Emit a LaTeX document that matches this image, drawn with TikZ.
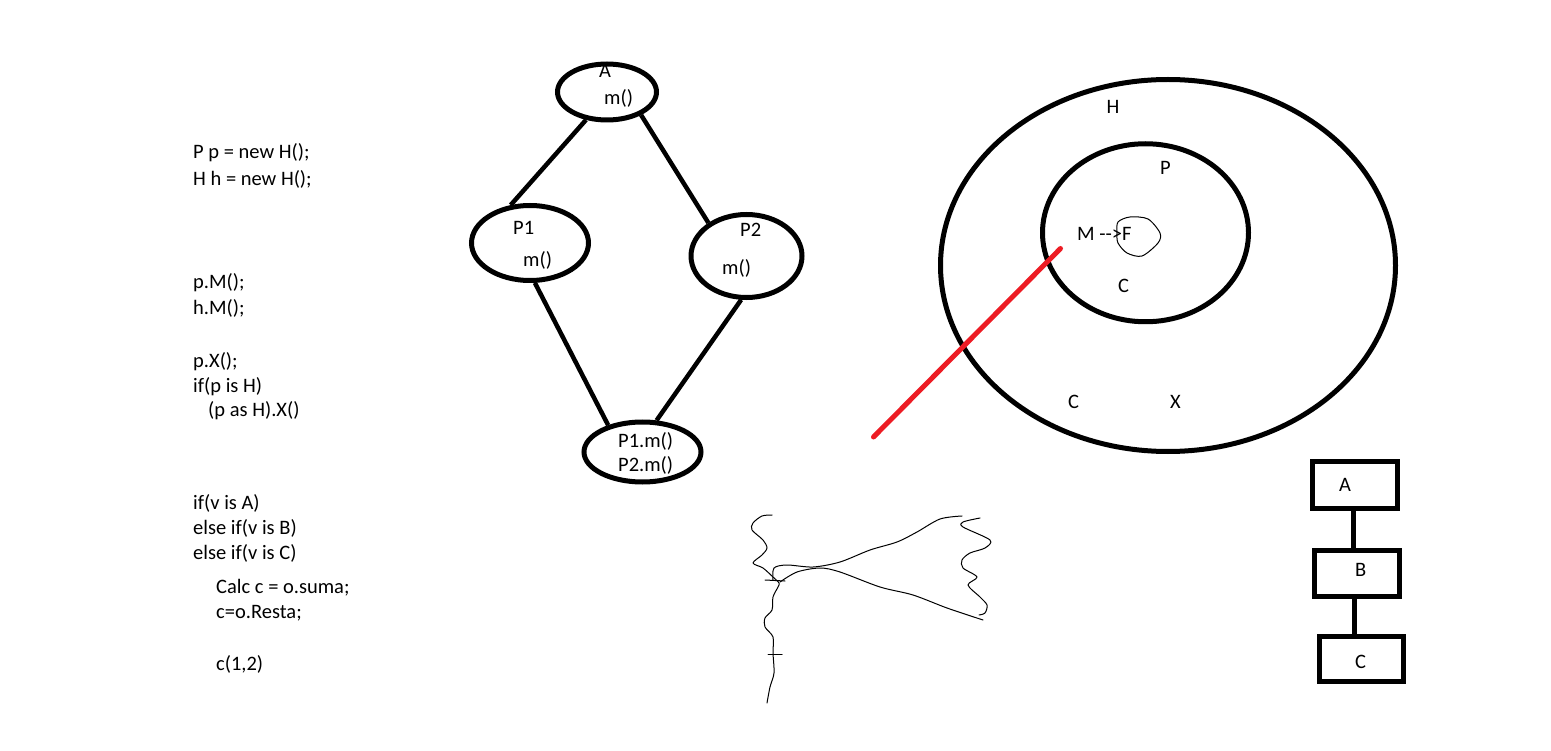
\documentclass[tikz,border=0pt]{standalone}
\usepackage{fontspec}
\setmainfont{Carlito}
\usetikzlibrary{shapes.geometric}
\definecolor{penred}{RGB}{237,28,36}
\tikzset{
  code/.style={anchor=base west, inner sep=0pt, font=\fontsize{20.5}{24}\selectfont},
  lbl/.style={anchor=base west, inner sep=0pt, font=\fontsize{20.5}{24}\selectfont},
  oval/.style={draw, ellipse, line width=5pt, inner sep=0pt},
  edge/.style={line width=4.5pt},
  classbox/.style={draw, line width=5pt, inner sep=0pt},
  pen/.style={line width=1pt, line join=round, line cap=round},
}
\begin{document}
\begin{tikzpicture}[x=1pt, y=-1pt]
\useasboundingbox (0,0) rectangle (1551,751);

% ---- code listing ----
\node[code] (c1) at (193,159) {P p = new H();};
\node[code] (c2) at (193,186) {H h = new H();};
\node[code] (c3) at (193,289) {p.M();};
\node[code] (c4) at (193,315) {h.M();};
\node[code] (c5) at (193,367) {p.X();};
\node[code] (c6) at (193,392) {if(p is H)};
\node[code] (c7) at (208,417) {(p as H).X()};
\node[code] (c8) at (193,509) {if(v is A)};
\node[code] (c9) at (193,534) {else if(v is B)};
\node[code] (c10) at (193,559) {else if(v is C)};
\node[code] (c11) at (216,593) {Calc c = o.suma;};
\node[code] (c12) at (216,618) {c=o.Resta;};
\node[code] (c13) at (216,670) {c(1,2)};

% ---- diamond of ellipses ----
\node[oval, minimum width=99pt, minimum height=56pt] (A) at (607,92) {};
\node[oval, minimum width=117pt, minimum height=75pt] (P1) at (530,243) {};
\node[oval, minimum width=111pt, minimum height=83pt] (P2) at (746.5,256) {};
\node[oval, minimum width=117pt, minimum height=60pt] (PM) at (642.5,452) {};

\node[lbl] (tA) at (599,78) {A};
\node[lbl] (tAm) at (604,105) {m()};
\node[lbl] (tP1) at (513,235) {P1};
\node[lbl] (tP1m) at (523,267) {m()};
\node[lbl] (tP2) at (740,237) {P2};
\node[lbl] (tP2m) at (722,275) {m()};
\node[lbl] (tPM1) at (618,447) {P1.m()};
\node[lbl] (tPM2) at (618,471) {P2.m()};

\draw[edge] (A.233) -- (P1.117);
\draw[edge] (A.326) -- (P2.139);
\draw[edge] (P1.277) -- (PM.142);
\draw[edge] (P2.263) -- (PM.66);

% ---- nested sets ----
\node[oval, minimum width=455pt, minimum height=372pt] (H) at (1168,265.5) {};
\node[oval, minimum width=206pt, minimum height=178pt] (P) at (1145.5,232.75) {};
\node[lbl] (tH) at (1106.5,114) {H};
\node[lbl] (tP) at (1160,175) {P};
\node[lbl] (tMF) at (1077,240.5) {M -{}->F};
\node[lbl] (tC1) at (1118,292.5) {C};
\node[lbl] (tC2) at (1068,408.5) {C};
\node[lbl] (tX) at (1170,408.5) {X};
\draw[pen] plot[smooth cycle] coordinates {(1118,222) (1130,217) (1148,219) (1160,233) (1158,243) (1142,256) (1127,253) (1118,243) (1117,233)};

% red stroke
\coordinate (r1) at (873.5,437);
\coordinate (r2) at (1060.5,248.5);
\draw[penred, line width=5pt, line cap=round] (r1) -- (r2);

% ---- chain of boxes ----
\node[classbox, minimum width=85pt, minimum height=47.5pt] (bA) at (1355,484.75) {};
\node[classbox, minimum width=85pt, minimum height=46pt] (bB) at (1356.5,573) {};
\node[classbox, minimum width=84.5pt, minimum height=45pt] (bC) at (1361.25,658.5) {};
\node[lbl] (tbA) at (1339,491.5) {A};
\node[lbl] (tbB) at (1355,576.5) {B};
\node[lbl] (tbC) at (1355,668.5) {C};
\draw[edge] (bA.south -| 1353.5,0) -- (bB.north -| 1353.5,0);
\draw[edge] (bB.south -| 1354.5,0) -- (bC.north -| 1354.5,0);

% ---- freehand scribble ----
\draw[pen] plot[smooth] coordinates {(772,515) (762,516) (753,523) (752,530) (763,540) (767,548) (762,555) (753,563) (763,568) (773,577) (779,583) (778,587) (773,597) (772,610) (765,618) (765,627) (773,637) (773,653) (774,673) (770,687) (767,703)};
\draw[pen] plot[smooth] coordinates {(773,580) (774,568) (787,565) (813,567) (840,562) (870,550) (897,542) (917,532) (940,519) (962,516)};
\draw[pen] plot[smooth] coordinates {(780,582) (797,572) (820,568) (840,572) (880,587) (913,595) (947,608) (983,620)};
\draw[pen] plot[smooth] coordinates {(980,518) (963,522) (963,527) (990,540) (985,548) (970,553) (962,560) (963,568) (977,577) (968,585) (980,597) (987,605) (985,613) (979,615)};
\coordinate (k1) at (765,580);
\coordinate (k2) at (785,581);
\coordinate (k3) at (768,654);
\coordinate (k4) at (782,654);
\draw[pen] (k1) -- (k2);
\draw[pen] (k3) -- (k4);
\end{tikzpicture}
\end{document}
